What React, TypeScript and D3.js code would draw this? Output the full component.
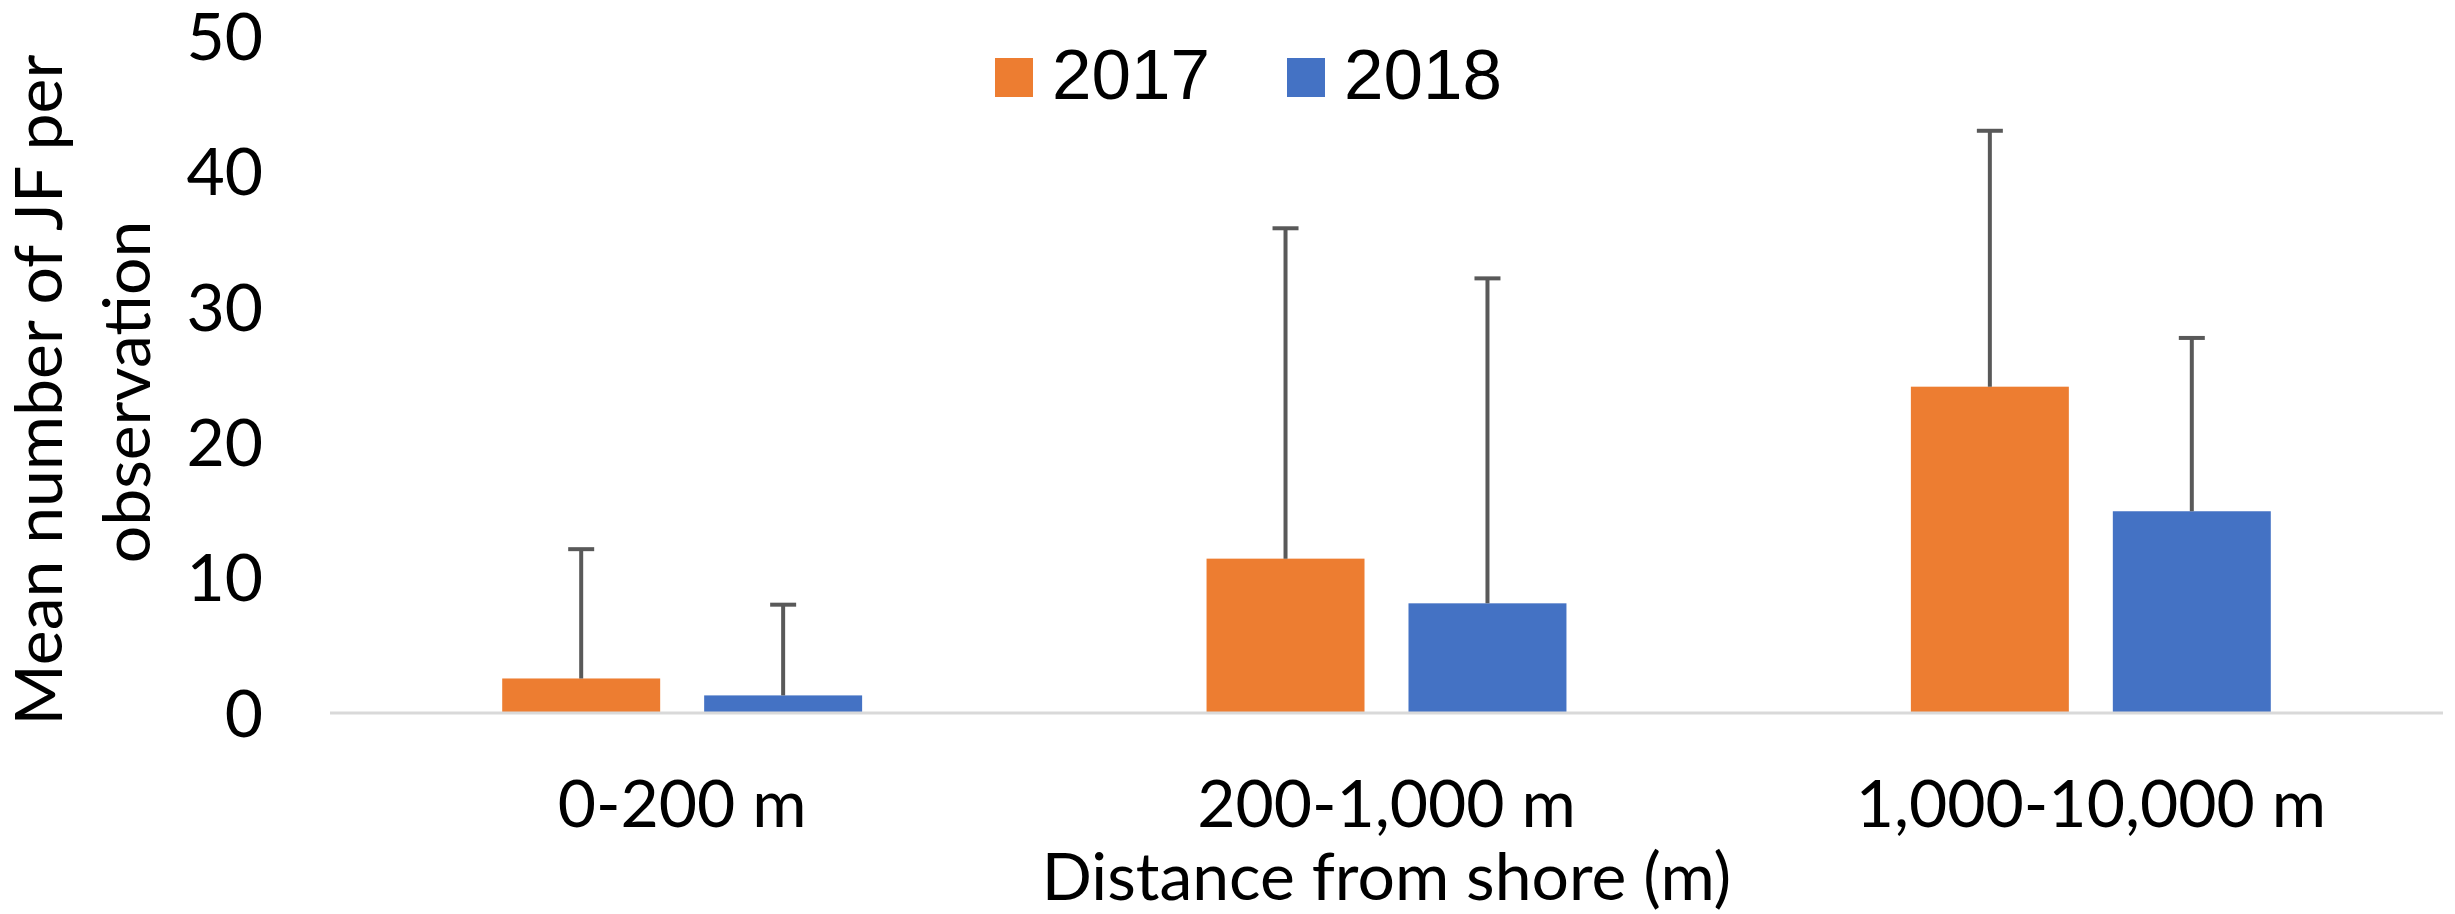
import React from "react";
import * as d3 from "d3";

// Mean jellyfish counts per observation by distance from shore
const categories = ["0-200 m", "200-1,000 m", "1,000-10,000 m"];
const seriesNames = ["2017", "2018"];
const mean2017 = [2.55, 11.4, 24.1];
const mean2018 = [1.3, 8.1, 14.9];
const sd2017 = [9.55, 24.4, 18.9];
const sd2018 = [6.7, 24.0, 12.8];
const yTicks = [0, 10, 20, 30, 40, 50];
const colors = ["#ED7D31", "#4472C4"];

const W = 2455;
const H = 914;
const plotLeft = 330;
const plotRight = 2443;
const plotTop = 36;
const plotBottom = 713;
const bodyFont = "Lato, 'Open Sans', sans-serif";
const legendFont = "'Liberation Sans', Arial, sans-serif";
const bodySize = 66;

export default function App() {
  const x0 = d3.scaleBand<string>().domain(categories).range([plotLeft, plotRight]).padding(0);
  const groupWidth = x0.bandwidth() * 0.511;
  const x1 = d3
    .scaleBand<string>()
    .domain(seriesNames)
    .range([0, groupWidth])
    .paddingInner(0.2178)
    .paddingOuter(0);
  const y = d3.scaleLinear().domain([0, 50]).range([plotBottom, plotTop]);

  const series = [
    { name: seriesNames[0], means: mean2017, sds: sd2017, color: colors[0] },
    { name: seriesNames[1], means: mean2018, sds: sd2018, color: colors[1] },
  ];
  const capHalf = 13;

  return (
    <svg
      width={W}
      height={H}
      viewBox={`0 0 ${W} ${H}`}
      style={{ position: "absolute", left: 0, top: 0, background: "#fff" }}
    >
      {/* y tick labels */}
      {yTicks.map((t) => (
        <text
          key={t}
          x={263}
          y={y(t)}
          dy="0.36em"
          textAnchor="end"
          fontFamily={bodyFont}
          fontSize={bodySize}
          fill="#000"
        >
          {t}
        </text>
      ))}

      {/* y axis title */}
      <g transform="translate(62,390) rotate(-90)">
        <text textAnchor="middle" fontFamily={bodyFont} fontSize={bodySize} fill="#000">
          Mean number of JF per
        </text>
      </g>
      <g transform="translate(150,392) rotate(-90)">
        <text textAnchor="middle" fontFamily={bodyFont} fontSize={bodySize} fill="#000">
          observation
        </text>
      </g>

      {/* bars */}
      {series.map((s) =>
        categories.map((c, i) => {
          const gx = (x0(c) as number) + (x0.bandwidth() - groupWidth) / 2;
          const bx = gx + (x1(s.name) as number);
          return (
            <rect
              key={s.name + c}
              x={bx}
              y={y(s.means[i])}
              width={x1.bandwidth()}
              height={y(0) - y(s.means[i])}
              fill={s.color}
            />
          );
        })
      )}

      {/* baseline */}
      <line x1={plotLeft} x2={plotRight} y1={y(0)} y2={y(0)} stroke="#d9d9d9" strokeWidth={3} />

      {/* error bars (+SD) */}
      {series.map((s) =>
        categories.map((c, i) => {
          const gx = (x0(c) as number) + (x0.bandwidth() - groupWidth) / 2;
          const cx = gx + (x1(s.name) as number) + x1.bandwidth() / 2;
          const top = y(s.means[i] + s.sds[i]);
          return (
            <g key={"e" + s.name + c} stroke="#595959" strokeWidth={4}>
              <line x1={cx} x2={cx} y1={y(s.means[i])} y2={top} />
              <line x1={cx - capHalf} x2={cx + capHalf} y1={top} y2={top} />
            </g>
          );
        })
      )}

      {/* category labels */}
      {categories.map((c) => (
        <text
          key={c}
          x={(x0(c) as number) + x0.bandwidth() / 2}
          y={827}
          textAnchor="middle"
          fontFamily={bodyFont}
          fontSize={bodySize}
          fill="#000"
        >
          {c}
        </text>
      ))}

      {/* x axis title */}
      <text
        x={(plotLeft + plotRight) / 2}
        y={900}
        textAnchor="middle"
        fontFamily={bodyFont}
        fontSize={bodySize}
        fill="#000"
      >
        Distance from shore (m)
      </text>

      {/* legend */}
      {series.map((s, i) => {
        const lx = 995 + i * 292;
        return (
          <g key={"l" + s.name}>
            <rect x={lx} y={58} width={38} height={39} fill={s.color} />
            <text x={lx + 57} y={99} fontFamily={legendFont} fontSize={71} fill="#000">
              {s.name}
            </text>
          </g>
        );
      })}
    </svg>
  );
}
